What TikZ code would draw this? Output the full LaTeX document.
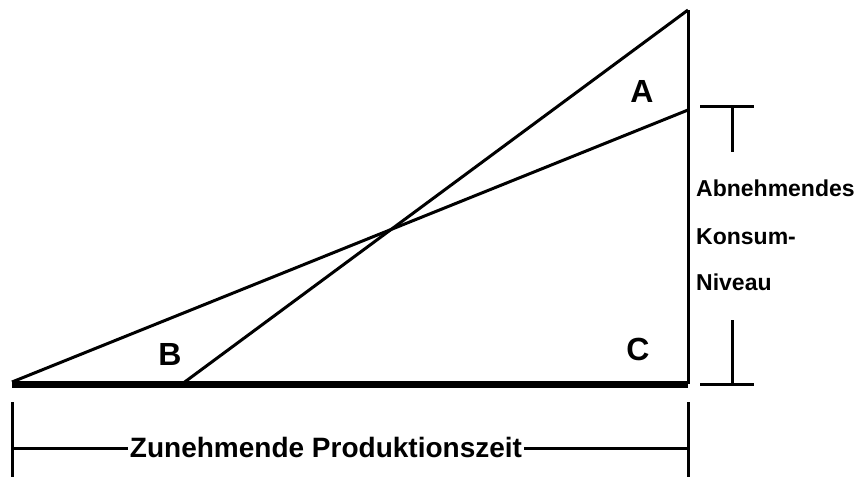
\documentclass[tikz,border=0pt]{standalone}
\usepackage{fontspec}
\setmainfont{Liberation Sans}
\begin{document}
\begin{tikzpicture}[x=1pt,y=-1pt,
  thinline/.style={line width=3pt},
  baseline/.style={line width=7pt},
  letter/.style={font=\bfseries\fontsize{32}{32}\selectfont, inner sep=0pt},
  sidelabel/.style={font=\bfseries\fontsize{23}{23}\selectfont, inner sep=0pt, anchor=west},
  bottomlabel/.style={font=\bfseries\fontsize{28}{28}\selectfont, inner sep=2pt}]
\useasboundingbox (0,0) rectangle (859,477);
\fill[white] (0,0) rectangle (859,477);
% key points
\coordinate (O) at (12,384);
\coordinate (R) at (688,384);
\coordinate (T) at (688,10);
\coordinate (S) at (182,384);
\coordinate (Sh0) at (12,382);
\coordinate (Sh1) at (688,110);
% lines
\draw[thinline] (R) -- (T);
\draw[thinline] (S) -- (T);
\draw[thinline] (Sh0) -- (Sh1);
\draw[baseline] (O) -- (R);
% letters
\node[letter] (A) at (642,91) {A};
\node[letter] (B) at (170,354) {B};
\node[letter] (C) at (638,349) {C};
% right dimension
\coordinate (t1) at (700,106);
\coordinate (t2) at (754,106);
\coordinate (tm) at (732,106);
\coordinate (tb) at (732,152);
\coordinate (b1) at (700,384);
\coordinate (b2) at (754,384);
\coordinate (bm) at (732,384);
\coordinate (bt) at (732,320);
\draw[thinline] (t1) -- (t2);
\draw[thinline] (tm) -- (tb);
\draw[thinline] (b1) -- (b2);
\draw[thinline] (bm) -- (bt);
\node[sidelabel] (l1) at (696,188) {Abnehmendes};
\node[sidelabel] (l2) at (696,237) {Konsum-};
\node[sidelabel] (l3) at (696,282) {Niveau};
% bottom dimension
\coordinate (v1a) at (12,402);
\coordinate (v1b) at (12,477);
\coordinate (v2a) at (688,402);
\coordinate (v2b) at (688,477);
\draw[thinline] (v1a) -- (v1b);
\draw[thinline] (v2a) -- (v2b);
\node[bottomlabel] (Z) at (326,447) {Zunehmende Produktionszeit};
\coordinate (h1) at (12,448);
\coordinate (h2) at (688,448);
\draw[thinline] (h1) -- (Z.west |- h1);
\draw[thinline] (Z.east |- h2) -- (h2);
\end{tikzpicture}
\end{document}
